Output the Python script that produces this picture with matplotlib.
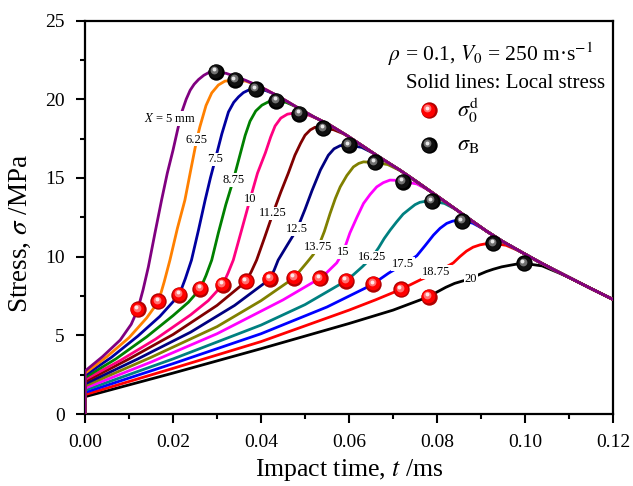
import matplotlib
matplotlib.use("Agg")
from matplotlib import pyplot as plt
from matplotlib.transforms import ScaledTranslation

plt.rcParams['font.family'] = ['Liberation Serif', 'DejaVu Serif']
plt.rcParams['mathtext.fontset'] = 'stix'

# distance labels (mm) and line colours
x_labels = ['$X$ = 5 mm', '6.25', '7.5', '8.75', '10', '11.25', '12.5',
            '13.75', '15', '16.25', '17.5', '18.75', '20']
colors = ['#800080', '#FF8000', '#0000A0', '#008000', '#FF0080', '#800000',
          '#000080', '#808000', '#FF00FF', '#008080', '#0000FF', '#FF0000',
          '#000000']

# common falling branch (X = 5 mm curve after its peak)
env_t = [0.0297, 0.0320, 0.0341, 0.0365, 0.0388, 0.0412, 0.0435, 0.0460, 0.0487,
         0.0520, 0.0557, 0.0595, 0.0630, 0.0670, 0.0716, 0.0757, 0.0800, 0.0838,
         0.0875, 0.0912, 0.0950, 0.0988, 0.1025, 0.1062, 0.1100, 0.1150, 0.1200]
env_s = [21.80, 21.65, 21.45, 21.20, 20.92, 20.60, 20.25, 19.85, 19.40,
         18.88, 18.35, 17.70, 17.05, 16.30, 15.49, 14.70, 13.85, 13.10,
         12.36, 11.63, 10.95, 10.35, 9.77, 9.22, 8.68, 7.97, 7.28]

# each local stress curve up to the point where it joins the falling branch
# (t in ms, stress in MPa)
curve_t = [
    [0, 0, 0.004, 0.008, 0.0105, 0.0120, 0.0132, 0.0144, 0.0159, 0.0174, 0.0187, 0.0200,
     0.0210, 0.0220, 0.0230, 0.0239, 0.0248, 0.0258, 0.0270, 0.0283],
    [0, 0, 0.005, 0.010, 0.014, 0.0167, 0.0180, 0.0193, 0.0210, 0.0227, 0.0241, 0.0254,
     0.0261, 0.0275, 0.0288, 0.0303, 0.0318, 0.0341, 0.0365],
    [0, 0, 0.006, 0.012, 0.017, 0.0214, 0.0228, 0.0242, 0.0258, 0.0273, 0.0285, 0.0296,
     0.0311, 0.0326, 0.0338, 0.0349, 0.0360, 0.0371, 0.0388, 0.0410, 0.0431],
    [0, 0, 0.007, 0.014, 0.020, 0.0235, 0.0262, 0.0275, 0.0288, 0.0303, 0.0320, 0.0337,
     0.0352, 0.0364, 0.0375, 0.0388, 0.0402, 0.0418, 0.0435, 0.0457, 0.0479],
    [0, 0, 0.008, 0.016, 0.024, 0.028, 0.0313, 0.0325, 0.0337, 0.0356, 0.0375, 0.0392,
     0.0410, 0.0422, 0.0432, 0.0445, 0.0460, 0.0475, 0.0487, 0.0508, 0.0530],
    [0, 0, 0.010, 0.020, 0.030, 0.0366, 0.0378, 0.0390, 0.0408, 0.0427, 0.0445, 0.0462,
     0.0477, 0.0490, 0.0500, 0.0512, 0.0523, 0.0542, 0.0565, 0.0588],
    [0, 0, 0.012, 0.024, 0.034, 0.0420, 0.0430, 0.0439, 0.0460, 0.0482, 0.0500, 0.0516,
     0.0535, 0.0553, 0.0566, 0.0580, 0.0599, 0.0629, 0.0658],
    [0, 0, 0.015, 0.030, 0.040, 0.0475, 0.0490, 0.0505, 0.0518, 0.0530, 0.0544, 0.0557,
     0.0569, 0.0580, 0.0595, 0.0610, 0.0622, 0.0633, 0.0658, 0.0688, 0.0718],
    [0, 0, 0.015, 0.030, 0.045, 0.0533, 0.0550, 0.0572, 0.0587, 0.0602, 0.0618, 0.0633,
     0.0648, 0.0663, 0.0678, 0.0693, 0.0708, 0.0722, 0.0754, 0.0785],
    [0, 0, 0.020, 0.040, 0.050, 0.0593, 0.0610, 0.0630, 0.0652, 0.0667, 0.0680, 0.0694,
     0.0708, 0.0723, 0.0739, 0.0750, 0.0761, 0.0775, 0.0788, 0.0817, 0.0846],
    [0, 0, 0.020, 0.040, 0.055, 0.0655, 0.0672, 0.0690, 0.0708, 0.0723, 0.0738, 0.0754,
     0.0773, 0.0792, 0.0807, 0.0822, 0.0835, 0.0845, 0.0857, 0.0881, 0.0904],
    [0, 0, 0.020, 0.040, 0.060, 0.066, 0.0718, 0.0740, 0.0761, 0.0780, 0.0799, 0.0818,
     0.0837, 0.0852, 0.0867, 0.0882, 0.0898, 0.0912, 0.0928, 0.0957, 0.0985],
    [0, 0, 0.020, 0.040, 0.060, 0.070, 0.0781, 0.0800, 0.0820, 0.0840, 0.0858, 0.0877,
     0.0895, 0.0912, 0.0928, 0.0947, 0.0966, 0.0982, 0.0998, 0.1039, 0.1079],
]
curve_s = [
    [0, 2.73, 3.65, 4.70, 5.70, 6.65, 7.90, 9.35, 11.50, 13.59, 15.30, 16.76,
     18.00, 19.19, 20.00, 20.57, 20.95, 21.25, 21.52, 21.72],
    [0, 2.59, 3.65, 4.85, 6.10, 7.15, 8.40, 9.78, 11.80, 13.59, 15.60, 17.44,
     18.24, 19.60, 20.40, 20.90, 21.15, 21.21, 21.15],
    [0, 2.46, 3.60, 4.95, 6.20, 7.56, 8.60, 9.78, 11.70, 13.59, 15.00, 16.17,
     17.80, 19.19, 19.80, 20.15, 20.42, 20.57, 20.63, 20.56, 20.32],
    [0, 2.32, 3.50, 4.90, 6.25, 7.10, 7.96, 8.80, 9.78, 11.50, 13.30, 14.86,
     16.44, 17.70, 18.60, 19.25, 19.62, 19.85, 19.89, 19.80, 19.53],
    [0, 2.19, 3.40, 4.75, 6.30, 7.20, 8.21, 8.95, 9.78, 11.70, 13.63, 15.30,
     16.60, 17.60, 18.30, 18.80, 19.05, 19.12, 19.07, 18.99, 18.74],
    [0, 2.05, 3.50, 5.05, 6.90, 8.42, 9.05, 9.78, 11.20, 12.74, 14.10, 15.30,
     16.44, 17.20, 17.71, 18.05, 18.22, 18.16, 18.06, 17.80],
    [0, 1.91, 3.50, 5.20, 6.90, 8.57, 9.15, 9.78, 10.75, 11.75, 13.00, 14.20,
     15.50, 16.44, 16.85, 17.05, 17.08, 16.94, 16.53],
    [0, 1.78, 3.60, 5.55, 7.20, 8.65, 9.15, 9.65, 10.10, 10.60, 11.60, 12.74,
     13.70, 14.43, 15.15, 15.70, 15.92, 16.02, 15.98, 15.85, 15.44],
    [0, 1.64, 3.30, 5.10, 7.25, 8.61, 9.00, 9.60, 10.30, 11.50, 12.50, 13.38,
     13.95, 14.43, 14.70, 14.86, 14.85, 14.77, 14.62, 14.16],
    [0, 1.51, 3.50, 5.65, 6.95, 8.46, 8.85, 9.35, 9.95, 10.55, 11.15, 11.70,
     12.20, 12.70, 13.06, 13.30, 13.45, 13.52, 13.52, 13.38, 12.95],
    [0, 1.37, 3.20, 5.10, 6.80, 8.25, 8.60, 8.95, 9.25, 9.52, 9.75, 10.05,
     10.70, 11.37, 11.80, 12.11, 12.25, 12.30, 12.25, 12.13, 11.78],
    [0, 1.23, 2.90, 4.60, 6.60, 7.25, 7.92, 8.22, 8.51, 8.75, 9.00, 9.30,
     9.60, 10.00, 10.35, 10.60, 10.75, 10.82, 10.84, 10.72, 10.38],
    [0, 1.10, 2.60, 4.15, 5.75, 6.60, 7.45, 7.75, 8.05, 8.30, 8.45, 8.60,
     8.85, 9.05, 9.20, 9.35, 9.45, 9.53, 9.57, 9.41, 8.94],
]

# where the X labels sit on the curves
lab_t = [0.0193, 0.0254, 0.0296, 0.0337, 0.0375, 0.0427, 0.0482,
         0.0530, 0.0587, 0.0652, 0.0723, 0.0799, 0.0877]
lab_s = [18.77, 17.44, 16.17, 14.86, 13.63, 12.74, 11.75,
         10.60, 10.30, 9.95, 9.52, 9.00, 8.60]

# sigma_0^d (red) and sigma_B (black) points
s0_t = [0.0120, 0.0167, 0.0214, 0.0262, 0.0313, 0.0366, 0.0420,
        0.0475, 0.0533, 0.0593, 0.0655, 0.0718, 0.0781]
s0_s = [6.65, 7.15, 7.56, 7.96, 8.21, 8.42, 8.57,
        8.65, 8.61, 8.46, 8.25, 7.92, 7.45]
sb_t = [0.0297, 0.0341, 0.0388, 0.0435, 0.0487, 0.0542, 0.0599,
        0.0658, 0.0722, 0.0788, 0.0857, 0.0928, 0.0998]
sb_s = [21.74, 21.21, 20.63, 19.89, 19.07, 18.14, 17.08,
        15.98, 14.77, 13.52, 12.25, 10.84, 9.57]


def balls(ax, t, s, tr, cols, z=10):
    # glossy sphere: rim, body and two highlights shifted up-left
    sizes = [11.8, 9.8, 5.6, 2.8]
    shifts = [(0, 0), (-0.3, 0.5), (-0.9, 1.3), (-1.2, 1.9)]
    for ms, c, (dx, dy) in zip(sizes, cols, shifts):
        off = tr + ScaledTranslation(dx / 72, dy / 72, ax.figure.dpi_scale_trans)
        ax.plot(t, s, 'o', ms=ms, mfc=c, mec='none', transform=off,
                zorder=z, clip_on=False)


red_cols = ['#b00000', '#ff0000', '#ff7070', '#ffe8e8']
black_cols = ['#000000', '#101010', '#707070', '#e8e8e8']

fig = plt.figure(figsize=(6.33, 4.86), dpi=100)
ax = fig.add_axes([0.1343, 0.1481, 0.8341, 0.8097])

for i in range(len(colors) - 1, -1, -1):
    last = curve_t[i][-1]
    t = curve_t[i] + [v for v in env_t if v > last + 0.0015]
    s = curve_s[i] + [env_s[k] for k, v in enumerate(env_t) if v > last + 0.0015]
    ax.plot(t, s, color=colors[i], lw=2.0, zorder=3 + (13 - i) * 0.01,
            solid_joinstyle='round')
    ax.text(lab_t[i], lab_s[i], x_labels[i], fontsize=9, ha='center', va='center',
            zorder=5, bbox=dict(fc='white', ec='none', pad=0.6))

balls(ax, s0_t, s0_s, ax.transData, red_cols)
balls(ax, sb_t, sb_s, ax.transData, black_cols)

# legend block
ax.text(0.574, 0.915, r'$\rho$ = 0.1, $V_0$ = 250 m·s$^{-1}$', transform=ax.transAxes,
        fontsize=15.5, va='center')
ax.text(0.608, 0.84, 'Solid lines: Local stress', transform=ax.transAxes,
        fontsize=15, va='center')
balls(ax, [0.651], [0.772], ax.transAxes, red_cols)
balls(ax, [0.651], [0.683], ax.transAxes, black_cols)
ax.text(0.705, 0.772, r'$\sigma_0^{\mathrm{d}}$', transform=ax.transAxes,
        fontsize=16, va='center')
ax.text(0.705, 0.683, r'$\sigma_{\mathrm{B}}$', transform=ax.transAxes,
        fontsize=16, va='center')

ax.set_xlim(0, 0.12)
ax.set_ylim(0, 25)
ax.set_xticks([0, 0.02, 0.04, 0.06, 0.08, 0.10, 0.12])
ax.set_xticklabels(['0.00', '0.02', '0.04', '0.06', '0.08', '0.10', '0.12'])
ax.set_xticks([0.01, 0.03, 0.05, 0.07, 0.09, 0.11], minor=True)
ax.set_yticks([0, 5, 10, 15, 20, 25])
ax.set_yticks([2.5, 7.5, 12.5, 17.5, 22.5], minor=True)
ax.tick_params(which='both', direction='out', width=1.5, labelsize=14,
               top=False, right=False)
ax.tick_params(which='major', length=6.5)
ax.tick_params(which='minor', length=3.6)
ax.tick_params(axis='x', which='major', pad=8)
ax.tick_params(axis='y', which='major', pad=8)
for sp in ax.spines.values():
    sp.set_linewidth(1.6)

ax.set_xlabel('Impact time, $t$ /ms', fontsize=18.5)
ax.set_ylabel(r'Stress, $\sigma$ /MPa', fontsize=19.5)
ax.xaxis.set_label_coords(0.5, -0.108)
ax.yaxis.set_label_coords(-0.098, 0.46)

fig.savefig('out.png', dpi=100)
